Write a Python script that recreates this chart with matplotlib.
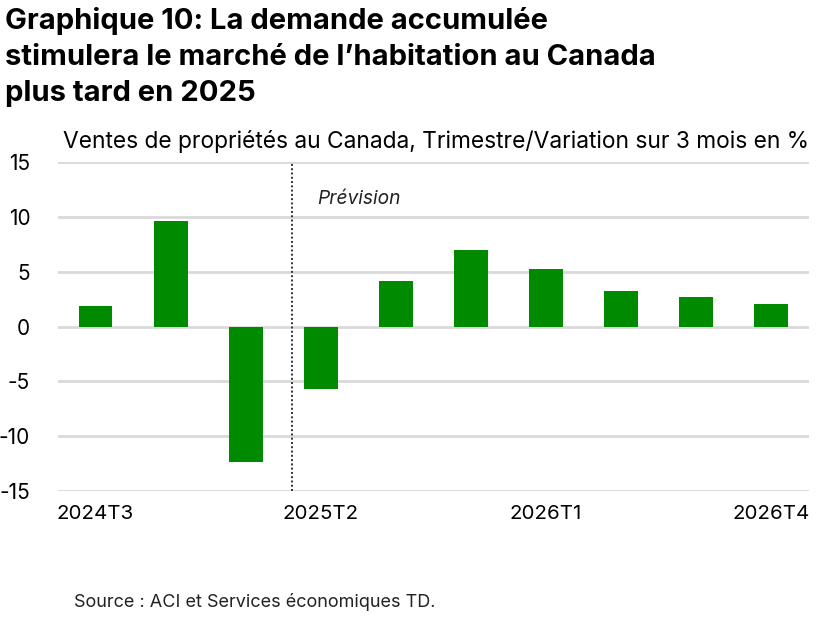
import matplotlib
matplotlib.use("Agg")
import matplotlib.pyplot as plt
import numpy as np

plt.rcParams['font.family'] = ['Inter', 'DejaVu Sans']

quarters = ["2024T3", "2024T4", "2025T1", "2025T2", "2025T3", "2025T4",
            "2026T1", "2026T2", "2026T3", "2026T4"]
values = [1.85, 9.6, -12.4, -5.7, 4.15, 6.95, 5.2, 3.2, 2.65, 2.05]
yticks = [-15, -10, -5, 0, 5, 10, 15]
shown_labels = {0: "2024T3", 3: "2025T2", 6: "2026T1", 9: "2026T4"}

fig = plt.figure(figsize=(8.27, 6.17), dpi=100)
ax = fig.add_axes([0.0701, 0.2042, 0.908, 0.5332])

x = np.arange(len(quarters))
for yv in yticks:
    ax.axhline(yv, color='#d9d9d9', lw=2.0, zorder=0)
ax.bar(x, values, width=0.45, color='#008a00', zorder=2)
ax.axvline(2.62, color='#333333', lw=1.4, ls=(0, (1, 1.2)), zorder=3)
ax.text(3.51, 11.6, "Prévision", style='italic', fontsize=13.8, ha='center',
        va='center', color='#222222')

ax.set_xlim(-0.5, 9.5)
ax.set_ylim(-15, 15)
ax.set_yticks(yticks)
ax.set_yticklabels([str(v) for v in yticks], fontsize=15)
ax.set_xticks(list(shown_labels.keys()))
ax.set_xticklabels(list(shown_labels.values()), fontsize=14.8)
ax.tick_params(length=0, pad=10)
ax.tick_params(axis='y', pad=20)
for s in ax.spines.values():
    s.set_visible(False)

fig.text(0.006, 0.988, "Graphique 10: La demande accumulée\nstimulera le marché de l’habitation au Canada\nplus tard en 2025",
         fontsize=21, fontweight='bold', ha='left', va='top', linespacing=1.42)
fig.text(0.978, 0.771, "Ventes de propriétés au Canada, Trimestre/Variation sur 3 mois en %",
         fontsize=16.4, ha='right', va='center')
fig.text(0.09, 0.024, "Source : ACI et Services économiques TD.", fontsize=13, ha='left',
         va='center', color='#222222')

fig.savefig("out.png", dpi=100)
